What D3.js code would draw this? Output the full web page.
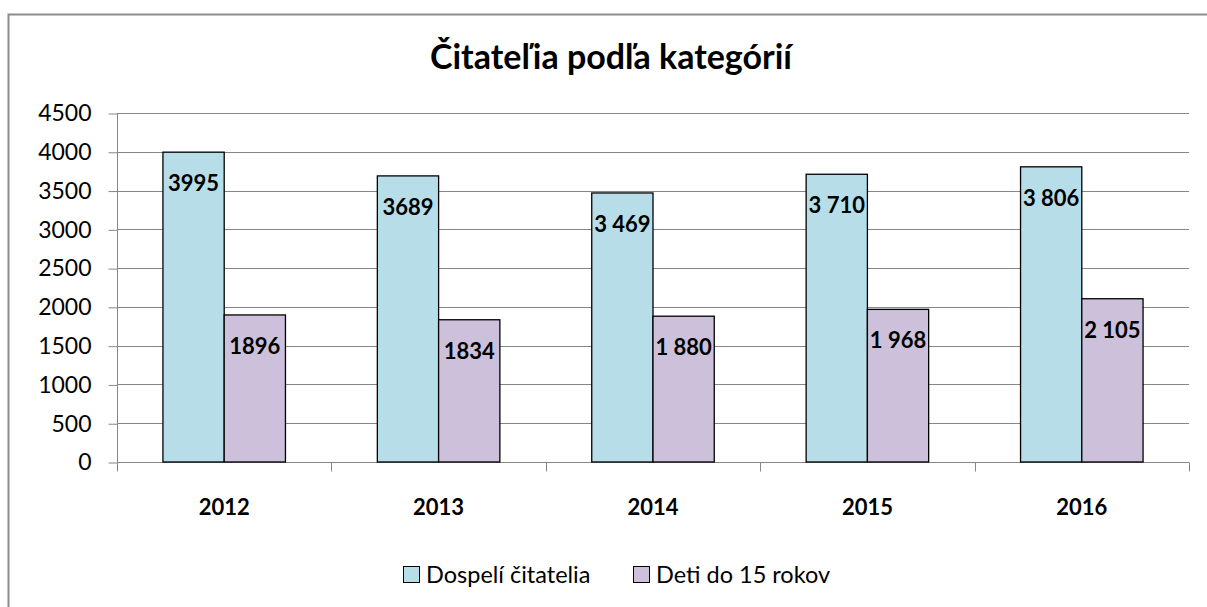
<!DOCTYPE html>
<html>
<head>
<meta charset="utf-8">
<script src="https://cdn.jsdelivr.net/npm/d3@7"></script>
<style>
  body { margin: 0; background: #fff; }
  text { font-family: Lato, "Open Sans", sans-serif; }
</style>
</head>
<body>
<svg id="chart" width="1207" height="607"></svg>
<script>
var years = ["2012", "2013", "2014", "2015", "2016"];
var seriesNames = ["Dospelí čitatelia", "Deti do 15 rokov"];
var adults = [3995, 3689, 3469, 3710, 3806];
var children = [1896, 1834, 1880, 1968, 2105];
var adultLabels = ["3995", "3689", "3 469", "3 710", "3 806"];
var childLabels = ["1896", "1834", "1 880", "1 968", "2 105"];
var yTicks = [0, 500, 1000, 1500, 2000, 2500, 3000, 3500, 4000, 4500];
var colors = ["#B7DEE8", "#CCC0DA"];

var svg = d3.select("#chart");

// outer chart border
svg.append("rect")
    .attr("x", 8.5).attr("y", 14.5)
    .attr("width", 1210).attr("height", 620)
    .attr("fill", "none")
    .attr("stroke", "#8c8c8c")
    .attr("stroke-width", 2);

svg.append("text")
    .attr("x", 611).attr("y", 69)
    .attr("text-anchor", "middle")
    .style("font-size", "34px")
    .style("font-weight", "bold")
    .text("Čitateľia podľa kategórií");

var plotLeft = 117, plotRight = 1189, plotTop = 113, plotBottom = 462;

var x = d3.scaleBand().domain(years).range([plotLeft, plotRight]).paddingInner(0).paddingOuter(0);
var y = d3.scaleLinear().domain([0, 4500]).range([plotBottom, plotTop]);

// gridlines
svg.append("g").selectAll("line")
    .data(yTicks.slice(1))
    .enter().append("line")
    .attr("x1", plotLeft).attr("x2", plotRight)
    .attr("y1", function (d) { return Math.round(y(d)) + 0.5; })
    .attr("y2", function (d) { return Math.round(y(d)) + 0.5; })
    .attr("stroke", "#868686")
    .attr("stroke-width", 1);

// y axis
var yAxis = svg.append("g")
    .attr("transform", "translate(" + (plotLeft + 0.5) + ",0.5)")
    .call(d3.axisLeft(y).tickValues(yTicks).tickSize(9).tickPadding(17).tickFormat(d3.format("d")));
yAxis.selectAll("text").style("font-size", "23px").attr("fill", "#000").attr("font-family", "Lato, sans-serif");
yAxis.selectAll("line").attr("stroke", "#868686");
yAxis.select(".domain").attr("stroke", "#868686").attr("d", "M0," + plotTop + "V" + plotBottom);

// x axis
var xAxisG = svg.append("g").attr("transform", "translate(0," + (plotBottom + 0.5) + ")");
xAxisG.append("line").attr("x1", plotLeft).attr("x2", plotRight).attr("stroke", "#868686");
xAxisG.selectAll(".tk")
    .data(years.concat(["end"]))
    .enter().append("line")
    .attr("x1", function (d, i) { return Math.round(plotLeft + i * x.bandwidth()) + 0.5; })
    .attr("x2", function (d, i) { return Math.round(plotLeft + i * x.bandwidth()) + 0.5; })
    .attr("y1", 0).attr("y2", 9)
    .attr("stroke", "#868686");
xAxisG.selectAll(".lbl")
    .data(years)
    .enter().append("text")
    .attr("x", function (d) { return x(d) + x.bandwidth() / 2; })
    .attr("y", 52)
    .attr("text-anchor", "middle")
    .style("font-size", "22px")
    .style("font-weight", "bold")
    .text(function (d) { return d; });

// bars
var barW = x.bandwidth() / 3.5;
var series = [adults, children];
var labels = [adultLabels, childLabels];

series.forEach(function (vals, s) {
    var g = svg.append("g");
    g.selectAll("rect")
        .data(vals)
        .enter().append("rect")
        .attr("x", function (d, i) { return x(years[i]) + barW * 0.75 + s * barW; })
        .attr("y", function (d) { return y(d); })
        .attr("width", barW)
        .attr("height", function (d) { return plotBottom - y(d); })
        .attr("fill", colors[s])
        .attr("stroke", "#000")
        .attr("stroke-width", 1.3);
    g.selectAll("text")
        .data(vals)
        .enter().append("text")
        .attr("x", function (d, i) { return x(years[i]) + barW * 0.75 + s * barW + barW / 2; })
        .attr("y", function (d) { return y(d) + 39; })
        .attr("text-anchor", "middle")
        .style("font-size", "22px")
        .style("font-weight", "bold")
        .text(function (d, i) { return labels[s][i]; });
});

// legend
var legendX = [403, 633];
var lg = svg.append("g");
seriesNames.forEach(function (name, i) {
    lg.append("rect")
        .attr("x", legendX[i] + 0.5).attr("y", 566.5)
        .attr("width", 16).attr("height", 16)
        .attr("fill", colors[i])
        .attr("stroke", "#000");
    lg.append("text")
        .attr("x", legendX[i] + 23).attr("y", 583)
        .style("font-size", "23.5px")
        .text(name);
});
</script>
</body>
</html>
